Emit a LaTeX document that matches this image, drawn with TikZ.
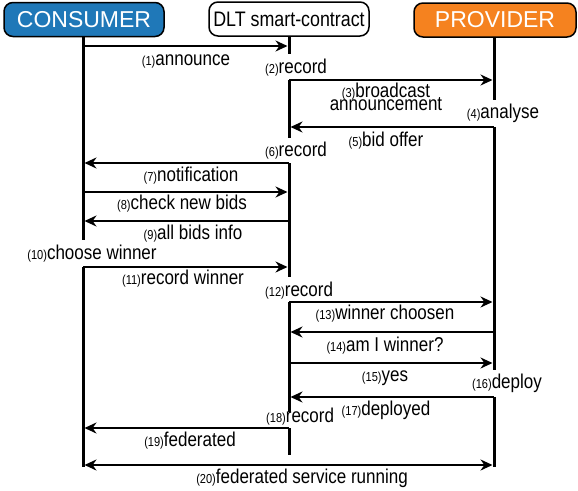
\documentclass[tikz,border=0pt]{standalone}
\usepackage{fontspec}
\setmainfont{Liberation Sans}
\newfontfamily\narrowfont[FakeStretch=0.85]{Liberation Sans}
\usetikzlibrary{arrows.meta}
\definecolor{consblue}{HTML}{1F78B8}
\definecolor{provorange}{HTML}{F5821F}
\newcommand{\lab}[2]{{\fontsize{13}{13}\selectfont(#1)}#2}
\begin{document}
\begin{tikzpicture}[x=1pt,y=-1pt,
  head/.style={draw=black,line width=1.5pt,rounded corners=9pt,minimum height=34pt,inner sep=0pt},
  life/.style={line width=3pt},
  msg/.style={line width=2pt,-{Stealth[length=12pt,width=11pt]},shorten >=1.5pt},
  dmsg/.style={line width=2pt,{Stealth[length=12pt,width=11pt]}-{Stealth[length=12pt,width=11pt]},shorten >=1.5pt,shorten <=1.5pt},
  lbl/.style={font=\narrowfont\fontsize{20}{13}\selectfont,inner sep=0pt,anchor=base,align=center}]
\useasboundingbox (0,0) rectangle (578,490);
% headers
\node[head,fill=consblue,minimum width=160pt,text=white,font=\fontsize{23}{23}\selectfont] (cons) at (84,19.5) {CONSUMER};
\node[head,fill=white,minimum width=160pt,font=\narrowfont\fontsize{21}{21}\selectfont] (dlt) at (289,19) {DLT smart-contract};
\node[head,fill=provorange,minimum width=162pt,text=white,font=\fontsize{23}{23}\selectfont] (prov) at (495,20) {PROVIDER};
% lifeline coordinates
\coordinate (C0) at (83,37);   \coordinate (Ca) at (83,240);
\coordinate (Cb) at (83,267);  \coordinate (Cz) at (83,467);
\coordinate (D0) at (289,36);  \coordinate (Da) at (289,54);
\coordinate (Db) at (289,80);  \coordinate (Dc) at (289,138);
\coordinate (Dd) at (289,163); \coordinate (De) at (289,277);
\coordinate (Df) at (289,302); \coordinate (Dg) at (289,412);
\coordinate (Dh) at (289,428); \coordinate (Di) at (289,455);
\coordinate (P0) at (494,37);  \coordinate (Pa) at (494,100);
\coordinate (Pb) at (494,127); \coordinate (Pc) at (494,370);
\coordinate (Pd) at (494,397); \coordinate (Pz) at (494,467);
\draw[life] (C0) -- (Ca) (Cb) -- (Cz);
\draw[life] (D0) -- (Da) (Db) -- (Dc) (Dd) -- (De) (Df) -- (Dg) (Dh) -- (Di);
\draw[life] (P0) -- (Pa) (Pb) -- (Pc) (Pd) -- (Pz);
% message endpoints
\coordinate (C1) at (83,46);   \coordinate (D1) at (289,46);
\coordinate (D3) at (289,80);  \coordinate (P3) at (494,80);
\coordinate (P5) at (494,127); \coordinate (D5) at (289,127);
\coordinate (D7) at (289,163); \coordinate (C7) at (83,163);
\coordinate (C8) at (83,192);  \coordinate (D8) at (289,192);
\coordinate (D9) at (289,221); \coordinate (C9) at (83,221);
\coordinate (C11) at (83,267); \coordinate (D11) at (289,267);
\coordinate (D13) at (289,302); \coordinate (P13) at (494,302);
\coordinate (P14) at (494,332); \coordinate (D14) at (289,332);
\coordinate (D15) at (289,363); \coordinate (P15) at (494,363);
\coordinate (P17) at (494,397); \coordinate (D17) at (289,397);
\coordinate (D19) at (289,428); \coordinate (C19) at (83,428);
\coordinate (C20) at (83,465); \coordinate (P20) at (494,465);
\draw[msg] (C1) -- (D1);
\draw[msg] (D3) -- (P3);
\draw[msg] (P5) -- (D5);
\draw[msg] (D7) -- (C7);
\draw[msg] (C8) -- (D8);
\draw[msg] (D9) -- (C9);
\draw[msg] (C11) -- (D11);
\draw[msg] (D13) -- (P13);
\draw[msg] (P14) -- (D14);
\draw[msg] (D15) -- (P15);
\draw[msg] (P17) -- (D17);
\draw[msg] (D19) -- (C19);
\draw[dmsg] (C20) -- (P20);
% labels
\node[lbl] (l1) at (186,65) {\lab{1}{announce}};
\node[lbl,anchor=base west] (l2) at (265,73) {\lab{2}{record}};
\node[lbl] (l3) at (386,110) {\lab{3}{broadcast}\\[-4pt]announcement};
\node[lbl] (l4) at (503,118) {\lab{4}{analyse}};
\node[lbl] (l5) at (386,146) {\lab{5}{bid offer}};
\node[lbl,anchor=base west] (l6) at (265,156) {\lab{6}{record}};
\node[lbl] (l7) at (191,181) {\lab{7}{notification}};
\node[lbl] (l8) at (182,209) {\lab{8}{check new bids}};
\node[lbl] (l9) at (193,239) {\lab{9}{all bids info}};
\node[lbl] (l10) at (92,259) {\lab{10}{choose winner}};
\node[lbl] (l11) at (183,284) {\lab{11}{record winner}};
\node[lbl,anchor=base west] (l12) at (265,296) {\lab{12}{record}};
\node[lbl] (l13) at (385,319) {\lab{13}{winner choosen}};
\node[lbl] (l14) at (385,351) {\lab{14}{am I winner?}};
\node[lbl] (l15) at (385,381) {\lab{15}{yes}};
\node[lbl] (l16) at (507,388) {\lab{16}{deploy}};
\node[lbl] (l17) at (386,415) {\lab{17}{deployed}};
\node[lbl,anchor=base west] (l18) at (266,422) {\lab{18}{record}};
\node[lbl] (l19) at (190,446) {\lab{19}{federated}};
\node[lbl] (l20) at (302,483) {\lab{20}{federated service running}};
\end{tikzpicture}
\end{document}
